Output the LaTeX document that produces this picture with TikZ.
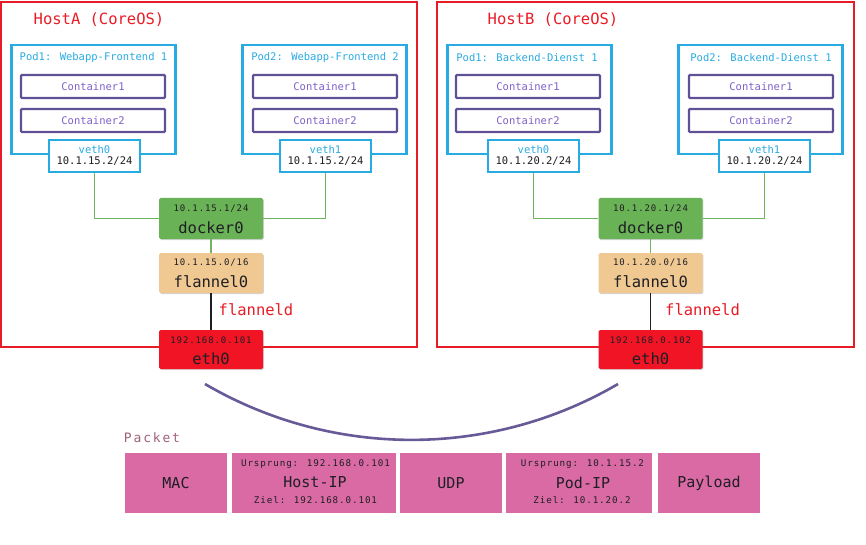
\documentclass[tikz,border=0pt]{standalone}
\usepackage{fontspec}
\setmonofont{DejaVu Sans Mono}
\newfontfamily\mono{DejaVu Sans Mono}
\newfontfamily\monols[LetterSpace=10]{DejaVu Sans Mono}
\newfontfamily\monolt[LetterSpace=14]{DejaVu Sans Mono}
\usetikzlibrary{shadows}
\definecolor{hostred}{RGB}{232,28,38}
\definecolor{podblue}{RGB}{40,170,226}
\definecolor{contpurple}{RGB}{96,80,150}
\definecolor{conttext}{RGB}{126,96,200}
\definecolor{dockgreen}{RGB}{106,178,86}
\definecolor{linegreen}{RGB}{112,180,96}
\definecolor{flantan}{RGB}{240,200,145}
\definecolor{ethred}{RGB}{240,20,36}
\definecolor{pktpink}{RGB}{217,106,163}
\definecolor{pktlabel}{RGB}{160,96,122}
\definecolor{arcpurple}{RGB}{104,90,150}
\definecolor{darktext}{RGB}{30,30,36}
\tikzset{
  hostbox/.style={draw=hostred, line width=1.8pt, minimum width=#1, minimum height=345pt, inner sep=0pt},
  hosttitle/.style={font=\mono\fontsize{15.5}{16}\selectfont, text=hostred, inner sep=0pt},
  podbox/.style={draw=podblue, line width=2.4pt, minimum width=164pt, minimum height=109pt, inner sep=0pt},
  podtitle/.style={font=\mono\fontsize{10.5}{12}\selectfont, text=podblue, inner sep=0pt},
  contbox/.style={draw=contpurple, line width=2.2pt, minimum width=144pt, minimum height=23pt, inner sep=0pt, rounded corners=1pt, font=\mono\fontsize{10.5}{12}\selectfont, text=conttext},
  vethbox/.style={draw=podblue, fill=white, line width=2.4pt, minimum width=91pt, minimum height=32pt, inner sep=0pt,
    drop shadow={opacity=0.35, shadow xshift=0.8pt, shadow yshift=-0.8pt}},
  vethname/.style={font=\mono\fontsize{10.5}{12}\selectfont, text=podblue, inner sep=0pt},
  ipsmall/.style={font=\mono\fontsize{10.5}{12}\selectfont, text=darktext, inner sep=0pt},
  ifbox/.style={fill=#1, minimum width=104pt, minimum height=40pt, inner sep=0pt, rounded corners=1.5pt,
    drop shadow={opacity=0.35, shadow xshift=0.8pt, shadow yshift=-1pt}},
  iftiny/.style={font=\monols\fontsize{9}{10}\selectfont, text=darktext, inner sep=0pt},
  ifbig/.style={font=\mono\fontsize{15.5}{16}\selectfont, text=darktext, inner sep=0pt},
  redlabel/.style={font=\mono\fontsize{15.5}{16}\selectfont, text=hostred, inner sep=0pt},
  greenline/.style={draw=linegreen, line width=1.6pt},
  blackline/.style={draw=darktext, line width=1.6pt},
  pktbox/.style={fill=pktpink, minimum height=60pt, minimum width=#1, inner sep=0pt},
  pktbig/.style={font=\mono\fontsize{15}{16}\selectfont, text=darktext, inner sep=0pt},
  pktsmall/.style={font=\monols\fontsize{9.2}{10}\selectfont, text=darktext, inner sep=0pt},
}
\begin{document}
\begin{tikzpicture}[x=1pt,y=-1pt]
\useasboundingbox (0,0) rectangle (866,545);
% Hosts
\node[hostbox=416pt] (hostA) at (209,174.5) {};
\node[hostbox=417pt] (hostB) at (645.5,174.5) {};
\node[hosttitle] (titleA) at (99,20) {HostA (CoreOS)};
\node[hosttitle] (titleB) at (553,20) {HostB (CoreOS)};
% Pods
\node[podbox] (pA1) at (93.5,99.5) {};
\node[podbox] (pA2) at (324.5,99.5) {};
\node[podbox] (pB1) at (529.5,99.5) {};
\node[podbox] (pB2) at (760.5,99.5) {};
\node[podtitle] (tA1) at (93.5,58) {Pod1: Webapp-Frontend 1};
\node[podtitle] (tA2) at (325,58) {Pod2: Webapp-Frontend 2};
\node[podtitle] (tB1) at (527,58) {Pod1: Backend-Dienst 1};
\node[podtitle] (tB2) at (761,58) {Pod2: Backend-Dienst 1};
% Containers
\node[contbox] (cA11) at (93,86.5) {Container1};
\node[contbox] (cA12) at (93,120.5) {Container2};
\node[contbox] (cA21) at (325,86.5) {Container1};
\node[contbox] (cA22) at (325,120.5) {Container2};
\node[contbox] (cB11) at (528,86.5) {Container1};
\node[contbox] (cB12) at (528,120.5) {Container2};
\node[contbox] (cB21) at (761,86.5) {Container1};
\node[contbox] (cB22) at (761,120.5) {Container2};
% veth boxes
\node[vethbox] (vA1) at (94.5,156) {};
\node[vethbox] (vA2) at (325.5,156) {};
\node[vethbox] (vB1) at (533.5,156) {};
\node[vethbox] (vB2) at (764.5,156) {};
\node[vethname] (vnA1) at (94.5,149.5) {veth0};
\node[ipsmall] (viA1) at (94.5,161.5) {10.1.15.2/24};
\node[vethname] (vnA2) at (325.5,149.5) {veth1};
\node[ipsmall] (viA2) at (325.5,161.5) {10.1.15.2/24};
\node[vethname] (vnB1) at (533.5,149.5) {veth0};
\node[ipsmall] (viB1) at (533.5,161.5) {10.1.20.2/24};
\node[vethname] (vnB2) at (764.5,149.5) {veth1};
\node[ipsmall] (viB2) at (764.5,161.5) {10.1.20.2/24};
% interfaces host A
\node[ifbox=dockgreen, minimum height=41pt] (dA) at (211,218.5) {};
\node[ifbox=flantan] (fA) at (211,273) {};
\node[ifbox=ethred, minimum height=39pt] (eA) at (211,349.5) {};
\node[iftiny] (dAip) at (211,208.5) {10.1.15.1/24};
\node[ifbig] (dAn) at (211,228) {docker0};
\node[iftiny] (fAip) at (211,263) {10.1.15.0/16};
\node[ifbig] (fAn) at (211,282) {flannel0};
\node[iftiny] (eAip) at (211,340) {192.168.0.101};
\node[ifbig] (eAn) at (211,359) {eth0};
% interfaces host B
\node[ifbox=dockgreen, minimum height=41pt] (dB) at (650.5,218.5) {};
\node[ifbox=flantan] (fB) at (650.5,273) {};
\node[ifbox=ethred, minimum height=39pt] (eB) at (650.5,349.5) {};
\node[iftiny] (dBip) at (650.5,208.5) {10.1.20.1/24};
\node[ifbig] (dBn) at (650.5,228) {docker0};
\node[iftiny] (fBip) at (650.5,263) {10.1.20.0/16};
\node[ifbig] (fBn) at (650.5,282) {flannel0};
\node[iftiny] (eBip) at (650.5,340) {192.168.0.102};
\node[ifbig] (eBn) at (650.5,359) {eth0};
\node[redlabel] (flA) at (256,309.5) {flanneld};
\node[redlabel] (flB) at (702.5,309.5) {flanneld};
% connectors
\draw[greenline] (vA1.south) |- (dA.west);
\draw[greenline] (vA2.south) |- (dA.east);
\draw[greenline] (vB1.south) |- (dB.west);
\draw[greenline] (vB2.south) |- (dB.east);
\draw[greenline] (dA.south) -- (fA.north);
\draw[greenline] (dB.south) -- (fB.north);
\draw[blackline] (fA.south) -- (eA.north);
\draw[blackline] (fB.south) -- (eB.north);
% arc
\coordinate (arcL) at (205,384);
\coordinate (arcR) at (618,384);
\draw[arcpurple, line width=2.6pt] (arcL) .. controls (332.4,458.5) and (490.6,458.5) .. (arcR);
% packet
\node[font=\monolt\fontsize{13}{14}\selectfont, text=pktlabel, inner sep=0pt] (pkt) at (152,437.5) {Packet};
\node[pktbox=102pt] (mac) at (176,483) {};
\node[pktbox=164pt] (hip) at (314,483) {};
\node[pktbox=102pt] (udp) at (451,483) {};
\node[pktbox=146pt] (pip) at (579,483) {};
\node[pktbox=102pt] (pay) at (709,483) {};
\node[pktbig] (macT) at (176,483) {MAC};
\node[pktbig] (udpT) at (451,483) {UDP};
\node[pktbig] (payT) at (709,483) {Payload};
\node[pktbig] (hipT) at (315,482.5) {Host-IP};
\node[pktsmall] (hipU) at (315.5,464) {Ursprung: 192.168.0.101};
\node[pktsmall] (hipZ) at (315.5,500.5) {Ziel: 192.168.0.101};
\node[pktbig] (pipT) at (583,482.5) {Pod-IP};
\node[pktsmall] (pipU) at (582.5,464) {Ursprung: 10.1.15.2};
\node[pktsmall] (pipZ) at (582,500.5) {Ziel: 10.1.20.2};
\end{tikzpicture}
\end{document}
